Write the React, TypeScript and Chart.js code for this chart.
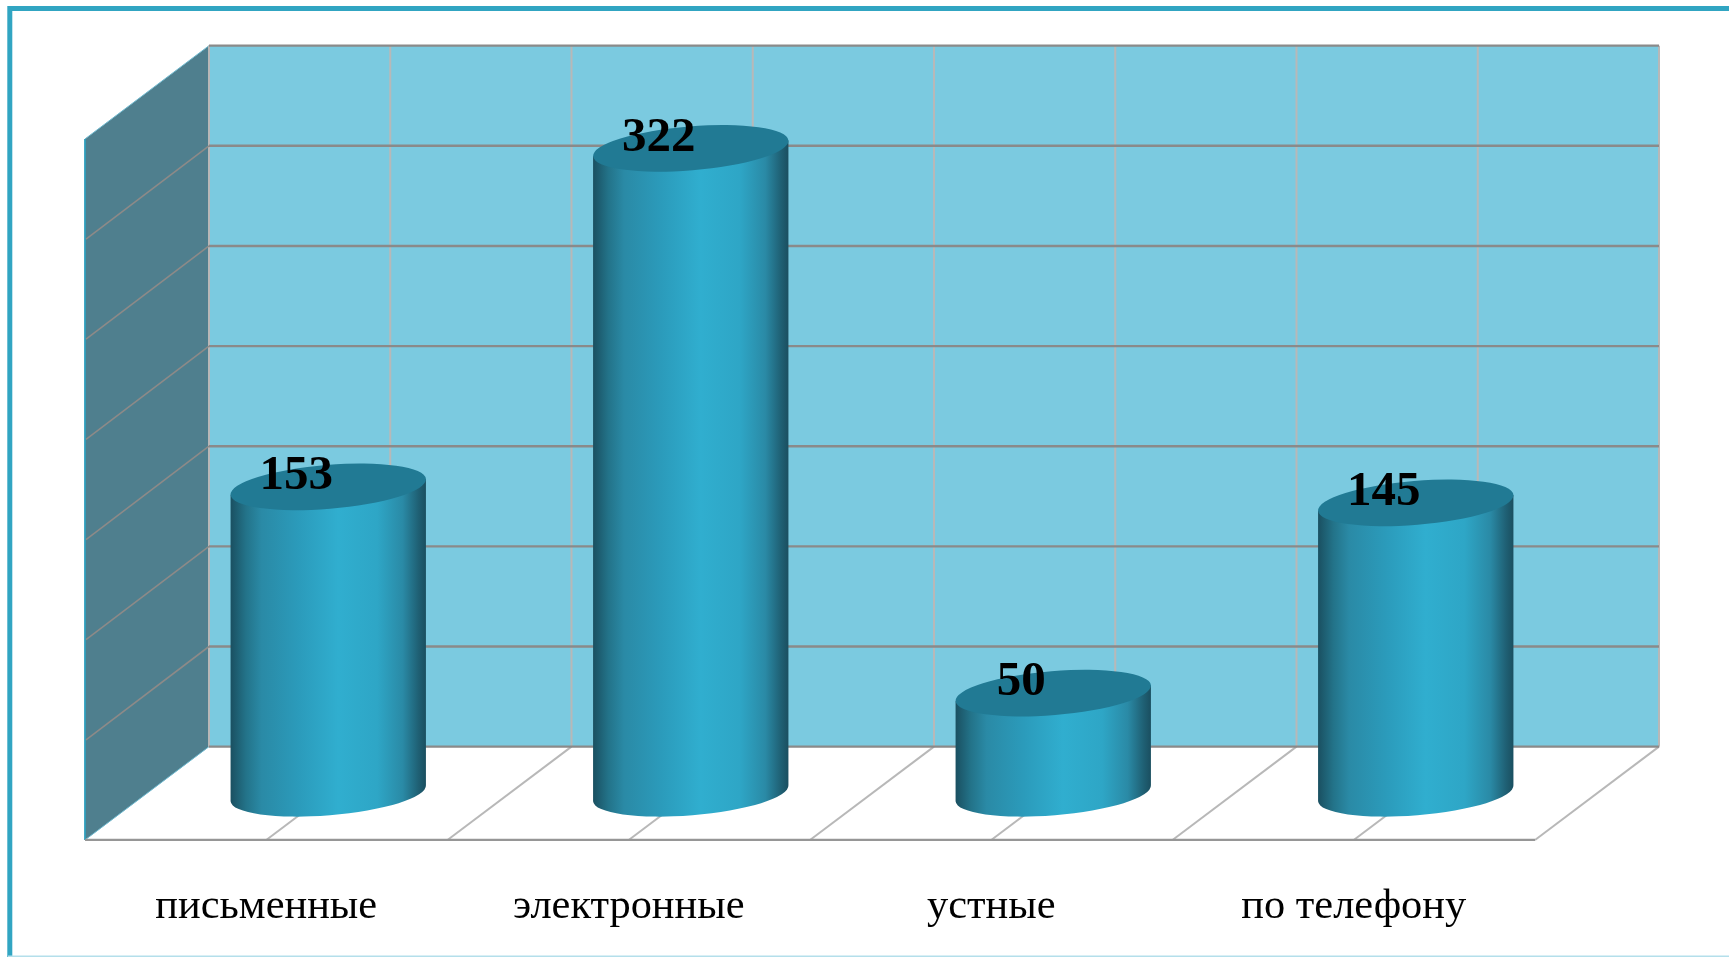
import React, { useEffect, useRef } from "react";
import { Chart, registerables } from "chart.js";

Chart.register(...registerables);

const categories = ["письменные", "электронные", "устные", "по телефону"];
const requests = [153, 322, 50, 145];
const yMax = 350;
const yStep = 50;
const subdivisionsPerCategory = 2;

const SERIF = '"Liberation Serif", "Times New Roman", serif';
const HALF_DX = 62;
const HALF_DY = 46.65;
const TILT = (4.67 * Math.PI) / 180;
const ELLIPSE_B = 22;

const scene3d = {
  id: "scene3d",
  beforeDatasetsDraw(chart: any) {
    const { ctx, chartArea, scales } = chart;
    const { left, right } = chartArea;
    const yS = scales.y;
    const ticks: number[] = yS.ticks.map((t: any) => yS.getPixelForValue(t.value));
    const yBase = yS.getPixelForValue(0);
    const yTop = yS.getPixelForValue(yMax);
    const bl = left + HALF_DX, br = right + HALF_DX;
    const fl = left - HALF_DX, fr = right - HALF_DX;
    const by = (v: number) => v - HALF_DY;
    const fy = (v: number) => v + HALF_DY;

    ctx.save();
    // frame
    ctx.strokeStyle = "#31a5c2";
    ctx.lineWidth = 5;
    ctx.beginPath();
    ctx.moveTo(9.8, 957);
    ctx.lineTo(9.8, 8.5);
    ctx.lineTo(1729, 8.5);
    ctx.stroke();
    ctx.fillStyle = "#b4dfeb";
    ctx.fillRect(8, 955.5, 1721, 1.5);

    // back wall
    ctx.fillStyle = "#7bcae0";
    ctx.fillRect(bl, by(yTop), br - bl, yBase - yTop);

    // side wall
    ctx.fillStyle = "#4f7f8e";
    ctx.beginPath();
    ctx.moveTo(fl, fy(yTop));
    ctx.lineTo(bl, by(yTop));
    ctx.lineTo(bl, by(yBase));
    ctx.lineTo(fl, fy(yBase));
    ctx.closePath();
    ctx.fill();
    ctx.strokeStyle = "#2f9fbd";
    ctx.lineWidth = 1.8;
    ctx.beginPath();
    ctx.moveTo(fl, fy(yTop));
    ctx.lineTo(fl, fy(yBase));
    ctx.stroke();
    ctx.strokeStyle = "#6fb9cf";
    ctx.lineWidth = 1;
    ctx.beginPath();
    ctx.moveTo(fl, fy(yBase));
    ctx.lineTo(bl, by(yBase));
    ctx.moveTo(fl, fy(yTop));
    ctx.lineTo(bl, by(yTop));
    ctx.stroke();

    // vertical grid on back wall and floor lines
    const n = categories.length * subdivisionsPerCategory;
    ctx.strokeStyle = "#b8b8b8";
    ctx.lineWidth = 2;
    for (let i = 0; i <= n; i++) {
      const f = i / n;
      const xb = bl + f * (br - bl);
      const xf = fl + f * (fr - fl);
      ctx.beginPath();
      ctx.moveTo(xb, by(yTop));
      ctx.lineTo(xb, by(yBase));
      ctx.stroke();
      if (i > 0) {
        ctx.beginPath();
        ctx.moveTo(xb, by(yBase));
        ctx.lineTo(xf, fy(yBase));
        ctx.stroke();
      }
    }

    // horizontal grid on back wall, diagonals on side wall
    ctx.strokeStyle = "#8a8a8a";
    ctx.lineWidth = 2.4;
    ticks.forEach((py) => {
      ctx.beginPath();
      ctx.moveTo(bl, by(py));
      ctx.lineTo(br, by(py));
      ctx.stroke();
    });
    ctx.strokeStyle = "#8d8a88";
    ctx.lineWidth = 1.6;
    ticks.forEach((py) => {
      if (py === yBase || py === yTop) return;
      ctx.beginPath();
      ctx.moveTo(bl, by(py));
      ctx.lineTo(fl + 1, fy(py));
      ctx.stroke();
    });

    // front edge of floor
    ctx.strokeStyle = "#969696";
    ctx.lineWidth = 2.2;
    ctx.beginPath();
    ctx.moveTo(fl, fy(yBase));
    ctx.lineTo(fr, fy(yBase));
    ctx.stroke();
    ctx.restore();
  },
  afterDatasetsDraw(chart: any) {
    const { ctx } = chart;
    const meta = chart.getDatasetMeta(0);
    ctx.save();
    meta.data.forEach((bar: any, i: number) => {
      const { x, y, base, width } = bar.getProps(["x", "y", "base", "width"], true);
      const a = width / 2;
      const dy = Math.sin(TILT) * a;
      const dx = Math.cos(TILT) * a;
      const g = ctx.createLinearGradient(x - a, 0, x + a, 0);
      g.addColorStop(0, "#1a4f60");
      g.addColorStop(0.08, "#237389");
      g.addColorStop(0.16, "#2a8aa6");
      g.addColorStop(0.35, "#2b9bbb");
      g.addColorStop(0.55, "#30aecf");
      g.addColorStop(0.75, "#2ea6c6");
      g.addColorStop(0.88, "#2a8aa6");
      g.addColorStop(0.96, "#1f6074");
      g.addColorStop(1, "#1a4e5f");

      // body with rounded bottom
      ctx.fillStyle = g;
      ctx.beginPath();
      ctx.moveTo(x - dx, y + dy);
      ctx.lineTo(x - dx, base + dy);
      ctx.ellipse(x, base, a, ELLIPSE_B, -TILT, Math.PI, 0, true);
      ctx.lineTo(x + dx, y - dy);
      ctx.closePath();
      ctx.fill();

      // top cap
      ctx.fillStyle = "#217a94";
      ctx.beginPath();
      ctx.ellipse(x, y, a, ELLIPSE_B, -TILT, 0, Math.PI * 2);
      ctx.fill();

      // value label
      ctx.fillStyle = "#000";
      ctx.font = `bold 49px ${SERIF}`;
      ctx.textAlign = "center";
      ctx.textBaseline = "middle";
      ctx.fillText(String(requests[i]), x - 32, y - 10.5);
    });
    ctx.restore();
  },
};

export default function App() {
  const ref = useRef<HTMLCanvasElement>(null);
  useEffect(() => {
    const chart = new Chart(ref.current as HTMLCanvasElement, {
      type: "bar",
      data: {
        labels: categories,
        datasets: [
          {
            data: requests,
            backgroundColor: "rgba(0,0,0,0)",
            borderWidth: 0,
            categoryPercentage: 1,
            barPercentage: 196 / 362.5,
          },
        ],
      },
      options: {
        responsive: false,
        animation: false,
        devicePixelRatio: 1,
        layout: { padding: { left: 147, right: 132, top: 92.3, bottom: 0 } },
        plugins: { legend: { display: false }, tooltip: { enabled: false } },
        scales: {
          x: {
            grid: { display: false, drawTicks: false },
            border: { display: false },
            afterFit: (s: any) => {
              s.height = 163.7;
            },
            ticks: {
              color: "#000",
              font: { family: SERIF, size: 42.4 },
              padding: 88,
              labelOffset: -HALF_DX,
              maxRotation: 0,
              autoSkip: false,
            },
          },
          y: {
            min: 0,
            max: yMax,
            grid: { display: false, drawTicks: false },
            border: { display: false },
            afterFit: (s: any) => {
              s.width = 0;
            },
            ticks: { display: false, stepSize: yStep },
          },
        },
      },
      plugins: [scene3d],
    } as any);
    return () => chart.destroy();
  }, []);
  return (
    <canvas
      ref={ref}
      width={1729}
      height={957}
      style={{ position: "fixed", left: 0, top: 0, display: "block", background: "#fff" }}
    />
  );
}
